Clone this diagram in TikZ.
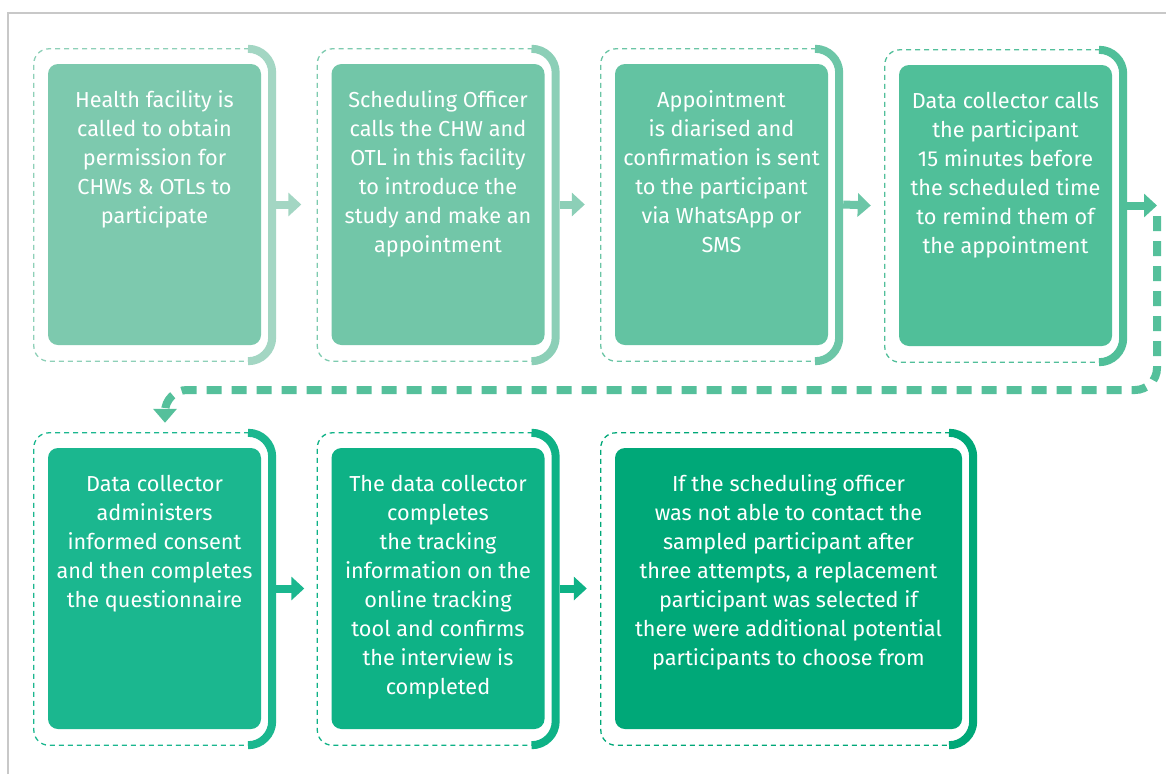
\documentclass[tikz,border=0pt]{standalone}
\usepackage{fontspec}
\setmainfont{Fira Sans}
\usetikzlibrary{calc,arrows.meta}
\definecolor{bA}{HTML}{7DC9AE}\definecolor{dA}{HTML}{8ED0B8}\definecolor{kA}{HTML}{A3D6C3}
\definecolor{bB}{HTML}{72C6A8}\definecolor{dB}{HTML}{7DCBAF}\definecolor{kB}{HTML}{8CCFB7}
\definecolor{bC}{HTML}{63C3A2}\definecolor{dC}{HTML}{6BC5A5}\definecolor{kC}{HTML}{6CC6A7}
\definecolor{bD}{HTML}{50BF99}\definecolor{dD}{HTML}{52BF9A}\definecolor{kD}{HTML}{50BF99}
\definecolor{bE}{HTML}{1BB78F}\definecolor{dE}{HTML}{1BB78F}\definecolor{kE}{HTML}{1BB78F}
\definecolor{bF}{HTML}{0EB286}\definecolor{dF}{HTML}{0EB286}\definecolor{kF}{HTML}{0EB286}
\definecolor{bG}{HTML}{00A878}\definecolor{dG}{HTML}{00A878}\definecolor{kG}{HTML}{00A878}
\definecolor{connc}{HTML}{55C09B}
\definecolor{framec}{HTML}{C8C8C8}
\newcommand\stepdeco[3]{%
  \draw[thindash, draw=#2, rounded corners=15pt]
    ($(#1.north east)+(-12,-15)$) -| ($(#1.south west)+(-14,16)$) -- ($(#1.south east)+(-12,16)$);
  \draw[bracket, draw=#3]
    ($(#1.north east)+(-12,-15)$) -- ($(#1.north east)+(11,-15)$) -- ($(#1.south east)+(11,16)$) -- ($(#1.south east)+(-12,16)$);
}
\begin{document}
\begin{tikzpicture}[x=1pt,y=-1pt,
  box/.style={rounded corners=10pt, minimum width=213pt, minimum height=281pt, inner sep=0pt},
  txt/.style={text=white, align=center, inner sep=0pt, anchor=north, font=\fontsize{21.7}{29}\selectfont},
  thindash/.style={line width=1.3pt, dash pattern=on 5pt off 4pt},
  bracket/.style={line width=8pt, rounded corners=24pt},
  flow/.style={line width=8pt, -{Triangle[length=13pt,width=23pt]}},
  conn/.style={draw=connc, line width=8pt, dash pattern=on 15pt off 10pt, rounded corners=22pt, -{Triangle[length=14pt,width=23pt]}}
]
\useasboundingbox (0,0) rectangle (1166,774);
\fill[white] (0,0) rectangle (1166,774);
\draw[framec, line width=1.5pt] (8,774) -- (8,13) -- (1166,13);

% boxes
\node[box, fill=bA] (s1) at (154.5,204.5) {};
\node[box, fill=bB] (s2) at (438,204.5) {};
\node[box, fill=bC] (s3) at (721.5,204.5) {};
\node[box, fill=bD] (s4) at (1005.5,205.5) {};
\node[box, fill=bE] (s5) at (154.5,588.5) {};
\node[box, fill=bF] (s6) at (438,588.5) {};
\node[box, fill=bG, minimum width=347pt] (s7) at (788.5,588.5) {};

\stepdeco{s1}{dA}{kA}
\stepdeco{s2}{dB}{kB}
\stepdeco{s3}{dC}{kC}
\stepdeco{s4}{dD}{kD}
\stepdeco{s5}{dE}{kE}
\stepdeco{s6}{dF}{kF}
\stepdeco{s7}{dG}{kG}

% texts
\node[txt] (t1) at ($(s1.north)+(0,27)$) {Health facility is\\called to obtain\\permission for\\CHWs \& OTLs to\\participate};
\node[txt] (t2) at ($(s2.north)+(0,27)$) {Scheduling Officer\\calls the CHW and\\OTL in this facility\\to introduce the\\study and make an\\appointment};
\node[txt] (t3) at ($(s3.north)+(0,27)$) {Appointment\\is diarised and\\confirmation is sent\\to the participant\\via WhatsApp or\\SMS};
\node[txt] (t4) at ($(s4.north)+(0,27)$) {Data collector calls\\the participant\\15 minutes before\\the scheduled time\\to remind them of\\the appointment};
\node[txt] (t5) at ($(s5.north)+(0,27)$) {Data collector\\administers\\informed consent\\and then completes\\the questionnaire};
\node[txt] (t6) at ($(s6.north)+(0,27)$) {The data collector\\completes\\the tracking\\information on the\\online tracking\\tool and confirms\\the interview is\\completed};
\node[txt] (t7) at ($(s7.north)+(0,27)$) {If the scheduling officer\\was not able to contact the\\sampled participant after\\three attempts, a replacement\\participant was selected if\\there were additional potential\\participants to choose from};

% arrows
\draw[flow, draw=kA] ([xshift=15pt]s1.east) -- ([xshift=-30pt]s2.west);
\draw[flow, draw=kB] ([xshift=15pt]s2.east) -- ([xshift=-30pt]s3.west);
\draw[flow, draw=kC] ([xshift=15pt]s3.east) -- ([xshift=-28pt]s4.west);
\coordinate (c1) at (1157,205.5);
\coordinate (c2) at (1157,216);
\draw[flow, draw=kD] ([xshift=15pt]s4.east) -- (c1);
\draw[conn] (c2) -- (1157,390) -- (165,390) -- ($(s5.north)+(10.5,-25)$);
\draw[flow, draw=kE] ([xshift=15pt]s5.east) -- ([xshift=-27pt]s6.west);
\draw[flow, draw=kF] ([xshift=15pt]s6.east) -- ([xshift=-28pt]s7.west);
\end{tikzpicture}
\end{document}
